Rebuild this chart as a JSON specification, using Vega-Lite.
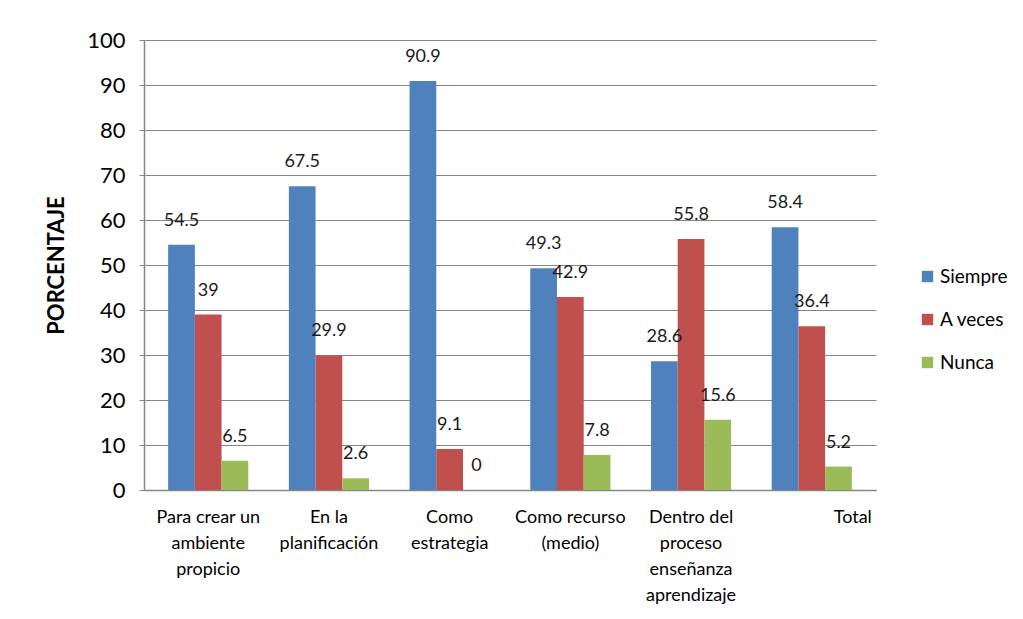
{
  "$schema": "https://vega.github.io/schema/vega-lite/v6.json",
  "width": 732,
  "height": 450,
  "padding": {"left": 45, "top": 29, "right": 5, "bottom": 5},
  "background": "white",
  "config": {
    "font": "Lato",
    "view": {"stroke": null},
    "axis": {"labelFont": "Lato", "titleFont": "Lato", "labelColor": "#000000", "titleColor": "#000000"}
  },
  "data": {
    "values": [
      {"categoria": "Para crear un|ambiente|propicio", "serie": "Siempre", "valor": 54.5},
      {"categoria": "Para crear un|ambiente|propicio", "serie": "A veces", "valor": 39},
      {"categoria": "Para crear un|ambiente|propicio", "serie": "Nunca", "valor": 6.5},
      {"categoria": "En la|planificación", "serie": "Siempre", "valor": 67.5},
      {"categoria": "En la|planificación", "serie": "A veces", "valor": 29.9},
      {"categoria": "En la|planificación", "serie": "Nunca", "valor": 2.6},
      {"categoria": "Como|estrategia", "serie": "Siempre", "valor": 90.9},
      {"categoria": "Como|estrategia", "serie": "A veces", "valor": 9.1},
      {"categoria": "Como|estrategia", "serie": "Nunca", "valor": 0},
      {"categoria": "Como recurso|(medio)", "serie": "Siempre", "valor": 49.3},
      {"categoria": "Como recurso|(medio)", "serie": "A veces", "valor": 42.9},
      {"categoria": "Como recurso|(medio)", "serie": "Nunca", "valor": 7.8},
      {"categoria": "Dentro del|proceso|enseñanza|aprendizaje", "serie": "Siempre", "valor": 28.6},
      {"categoria": "Dentro del|proceso|enseñanza|aprendizaje", "serie": "A veces", "valor": 55.8},
      {"categoria": "Dentro del|proceso|enseñanza|aprendizaje", "serie": "Nunca", "valor": 15.6},
      {"categoria": "Total", "serie": "Siempre", "valor": 58.4},
      {"categoria": "Total", "serie": "A veces", "valor": 36.4},
      {"categoria": "Total", "serie": "Nunca", "valor": 5.2}
    ]
  },
  "encoding": {
    "x": {
      "field": "categoria",
      "type": "nominal",
      "sort": ["Para crear un|ambiente|propicio", "En la|planificación", "Como|estrategia", "Como recurso|(medio)", "Dentro del|proceso|enseñanza|aprendizaje", "Total"],
      "scale": {"paddingInner": 0.336, "paddingOuter": 0.2},
      "axis": {
        "title": null,
        "labelAngle": 0,
        "labelExpr": "split(datum.label, '|')",
        "labelFontSize": 18,
        "labelLineHeight": 26,
        "labelPadding": 18,
        "labelOffset": {"condition": {"test": "datum.value === 'Total'", "value": 41}, "value": 0},
        "ticks": false,
        "domainColor": "#868686",
        "domainWidth": 1.5,
        "grid": false
      }
    },
    "xOffset": {"field": "serie", "type": "nominal", "sort": ["Siempre", "A veces", "Nunca"]},
    "y": {
      "field": "valor",
      "type": "quantitative",
      "scale": {"domain": [0, 100], "nice": false},
      "axis": {
        "title": "PORCENTAJE",
        "titleFontSize": 22,
        "titleFontWeight": "bold",
        "titlePadding": 18,
        "values": [0, 10, 20, 30, 40, 50, 60, 70, 80, 90, 100],
        "labelFontSize": 22,
        "labelPadding": 14,
        "tickSize": 5,
        "tickColor": "#868686",
        "domainColor": "#868686",
        "domainWidth": 1.5,
        "gridColor": "#868686",
        "gridWidth": 1.2
      }
    }
  },
  "layer": [
    {
      "mark": {"type": "bar"},
      "encoding": {
        "color": {
          "field": "serie",
          "type": "nominal",
          "sort": ["Siempre", "A veces", "Nunca"],
          "scale": {"domain": ["Siempre", "A veces", "Nunca"], "range": ["#4F81BD", "#C0504D", "#9BBB59"]},
          "legend": {
            "title": null,
            "orient": "none",
            "legendX": 774,
            "legendY": 227,
            "symbolType": "square",
            "symbolSize": 130,
            "symbolStrokeWidth": 0,
            "labelFontSize": 19,
            "labelColor": "#000000",
            "labelOffset": 3,
            "rowPadding": 23
          }
        }
      }
    },
    {
      "mark": {"type": "text", "baseline": "bottom", "dy": -15, "fontSize": 18, "color": "#1a1a1a"},
      "encoding": {
        "text": {"field": "valor", "type": "quantitative"}
      }
    }
  ]
}
